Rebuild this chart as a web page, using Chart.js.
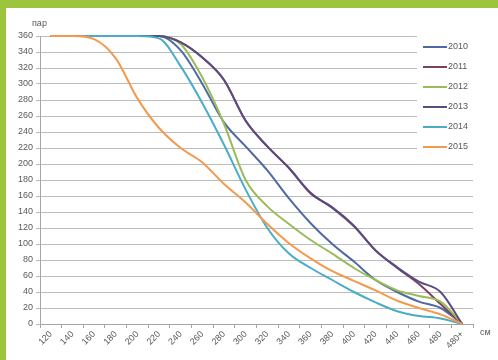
<!DOCTYPE html>
<html>
<head>
<meta charset="utf-8">
<script src="https://cdn.jsdelivr.net/npm/chart.js@4/dist/chart.umd.min.js"></script>
<style>
  html, body { margin: 0; padding: 0; background: #fff; }
  #frame {
    width: 492px; height: 352px;
    border-top: 8px solid #9cc43c;
    border-left: 6px solid #9cc43c;
    background: #fff;
  }
</style>
</head>
<body>
<div id="frame"><canvas id="chart" width="492" height="352"></canvas></div>
<script>
// categories (cm)
const sizes = ['120','140','160','180','200','220','240','260','280','300',
               '320','340','360','380','400','420','440','460','480','480+'];
const yearNames = ['2010','2011','2012','2013','2014','2015'];

// pairs
const y2010 = [360,360,360,360,360,360,342,300,252,222,192,157,126,100,78,55,40,28,20,0];
const y2011 = [360,360,360,360,360,360,352,333,305,254,222,195,163,146,123,92,70,50,25,0];
const y2012 = [360,360,360,360,360,360,350,308,250,180,147,125,105,88,70,55,42,35,28,0];
const y2013 = [360,360,360,360,360,360,352,333,305,254,222,195,164,145,122,92,71,53,40,0];
const y2014 = [360,360,360,360,360,357,322,276,224,168,120,88,70,55,40,27,16,10,7,0];
const y2015 = [360,360,356,332,282,245,220,202,175,152,125,101,82,66,54,42,29,20,12,0];

const colors = ['#4f6aa3', '#7d3f63', '#9bbb59', '#5a4c80', '#4bacc6', '#f39a4e'];
const series = [y2010, y2011, y2012, y2013, y2014, y2015];

const fontFam = '"Liberation Sans", Arial, sans-serif';

// legend drawn inside the plot, plus axis captions
const extras = {
  id: 'extras',
  afterDatasetsDraw(chart) {
    const { ctx, chartArea } = chart;
    ctx.save();
    // legend box
    const lx = chartArea.right - 56;
    const ly = chartArea.top - 2;
    ctx.fillStyle = '#fff';
    ctx.fillRect(lx, ly, chart.width - lx, 116);
    ctx.font = '9px ' + fontFam;
    ctx.textBaseline = 'middle';
    chart.data.datasets.forEach((ds, i) => {
      const y = chartArea.top + 11 + i * 20;
      ctx.strokeStyle = ds.borderColor;
      ctx.lineWidth = 2;
      ctx.beginPath();
      ctx.moveTo(lx + 6, y);
      ctx.lineTo(lx + 30, y);
      ctx.stroke();
      ctx.fillStyle = '#595959';
      ctx.textAlign = 'left';
      ctx.fillText(ds.label, lx + 31, y);
    });
    // axis captions
    ctx.fillStyle = '#595959';
    ctx.textAlign = 'left';
    ctx.fillText('пар', 26, chartArea.top - 12);
    ctx.fillText('см', chartArea.right + 7, chartArea.bottom + 9);
    ctx.restore();
  }
};

new Chart(document.getElementById('chart'), {
  type: 'line',
  data: {
    labels: sizes,
    datasets: series.map((vals, i) => ({
      label: yearNames[i],
      data: vals,
      borderColor: colors[i],
      backgroundColor: colors[i],
      borderWidth: 2,
      pointRadius: 0,
      fill: false,
      cubicInterpolationMode: 'monotone',
      clip: 4,
      order: series.length - i
    }))
  },
  options: {
    responsive: false,
    animation: false,
    layout: { padding: { top: 28, right: 25, left: 0, bottom: 0 } },
    plugins: {
      legend: { display: false },
      tooltip: { enabled: false }
    },
    scales: {
      x: {
        offset: true,
        grid: {
          offset: true,
          drawOnChartArea: false,
          drawTicks: true,
          tickLength: 4,
          color: '#a6a6a6'
        },
        border: { color: '#a6a6a6' },
        ticks: {
          color: '#595959',
          font: { size: 9, family: fontFam },
          minRotation: 45,
          maxRotation: 45,
          autoSkip: false,
          padding: 1
        },
        afterFit: (s) => { s.height = 36; }
      },
      y: {
        min: 0,
        max: 360,
        grid: {
          color: (c) => (c.tick && c.tick.value % 20 === 0) ? '#bdbdbd' : '#dcdcdc',
          tickLength: 4,
          lineWidth: 1
        },
        border: { color: '#a6a6a6' },
        ticks: {
          stepSize: 10,
          color: '#595959',
          font: { size: 9, family: fontFam },
          padding: 3,
          callback: (v) => (v % 20 === 0 ? v : '')
        },
        afterFit: (s) => { s.width = 34; }
      }
    }
  },
  plugins: [extras]
});
</script>
</body>
</html>
